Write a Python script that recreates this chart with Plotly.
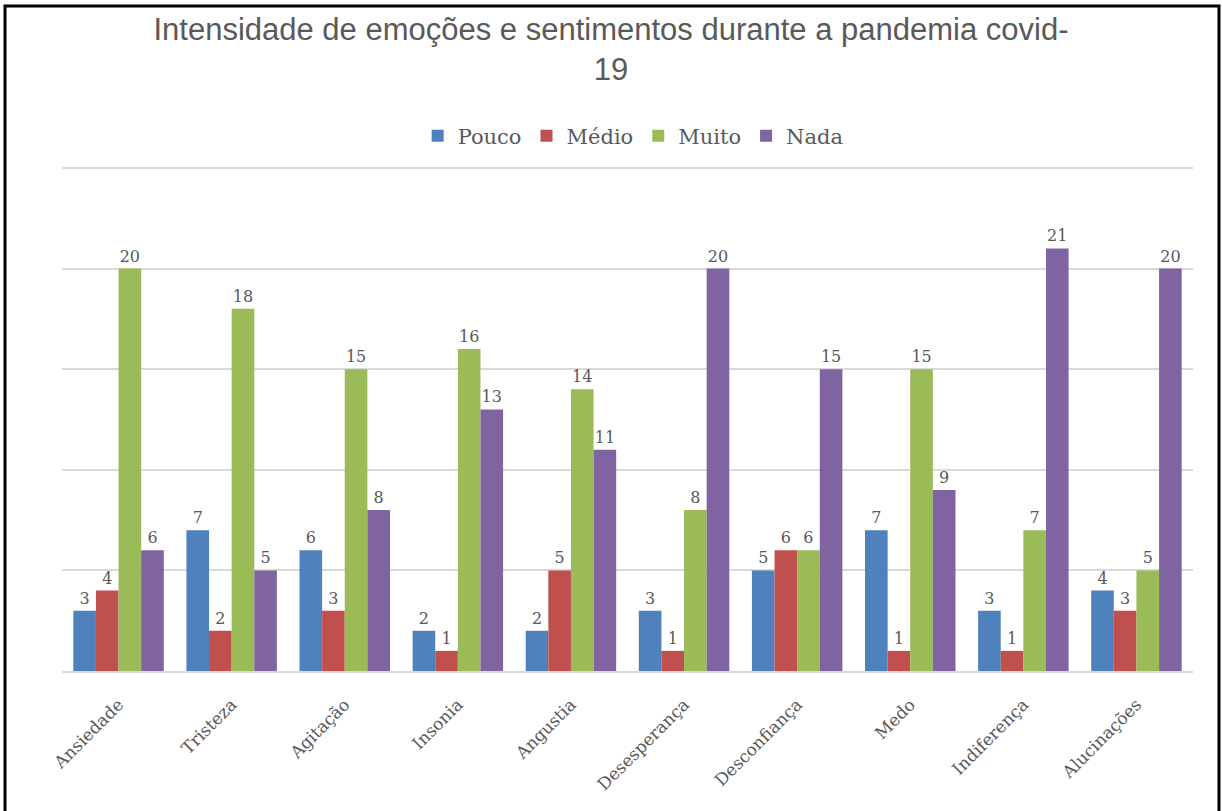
import plotly.graph_objects as go

categories = ["Ansiedade", "Tristeza", "Agitação", "Insonia", "Angustia",
              "Desesperança", "Desconfiança", "Medo", "Indiferença", "Alucinações"]
pouco = [3, 7, 6, 2, 2, 3, 5, 7, 3, 4]
medio = [4, 2, 3, 1, 5, 1, 6, 1, 1, 3]
muito = [20, 18, 15, 16, 14, 8, 6, 15, 7, 5]
nada = [6, 5, 8, 13, 11, 20, 15, 9, 21, 20]

series = [("Pouco", pouco, "#4F81BD"), ("Médio", medio, "#C0504D"),
          ("Muito", muito, "#9BBB59"), ("Nada", nada, "#8064A2")]

serif = "DejaVu Serif, Liberation Serif, serif"
fig = go.Figure()
for name, vals, col in series:
    fig.add_trace(go.Bar(
        x=categories, y=vals, name=name, marker_color=col,
        marker_line_width=0,
        text=vals, textposition="outside", cliponaxis=False,
        textfont=dict(family=serif, size=16, color="#595959"),
    ))

W, H = 1222, 811
L, R, T, B = 62, 29, 167, 140
fig.update_layout(
    width=W, height=H, autosize=False,
    margin=dict(l=L, r=R, t=T, b=B),
    paper_bgcolor="white", plot_bgcolor="white",
    barmode="group", bargap=0.2, bargroupgap=0,
    title=dict(text="Intensidade de emoções e sentimentos durante a pandemia covid-<br>19",
               x=0.5, xanchor="center", y=1 - 40 / H, yanchor="middle",
               font=dict(family="Liberation Sans, Arial, sans-serif", size=31, color="#595959")),
    legend=dict(orientation="h", x=0.505, xanchor="center", y=1 + (T - 136) / (H - T - B), yanchor="middle",
                font=dict(family=serif, size=21, color="#595959"), itemwidth=30,
                traceorder="normal"),
    showlegend=True,
    font=dict(family=serif, color="#595959"),
)
fig.update_yaxes(range=[0, 25.05], tickvals=[0, 5, 10, 15, 20, 25], showticklabels=False,
                 gridcolor="#D9D9D9", gridwidth=2, zeroline=False, showline=False)
fig.update_xaxes(tickangle=-45, tickfont=dict(family=serif, size=17, color="#595959"),
                 showline=True, linecolor="#D9D9D9", linewidth=2, ticks="", ticklen=0,
                 ticklabelstandoff=15)

pw, ph = W - L - R, H - T - B
fig.add_shape(type="rect", xref="paper", yref="paper",
              x0=(5 - L) / pw, x1=(1219 - L) / pw,
              y0=(H - B - 830) / ph, y1=(H - B - 6) / ph,
              line=dict(color="black", width=3), fillcolor="rgba(0,0,0,0)", layer="above")

fig.write_html("out.html")
